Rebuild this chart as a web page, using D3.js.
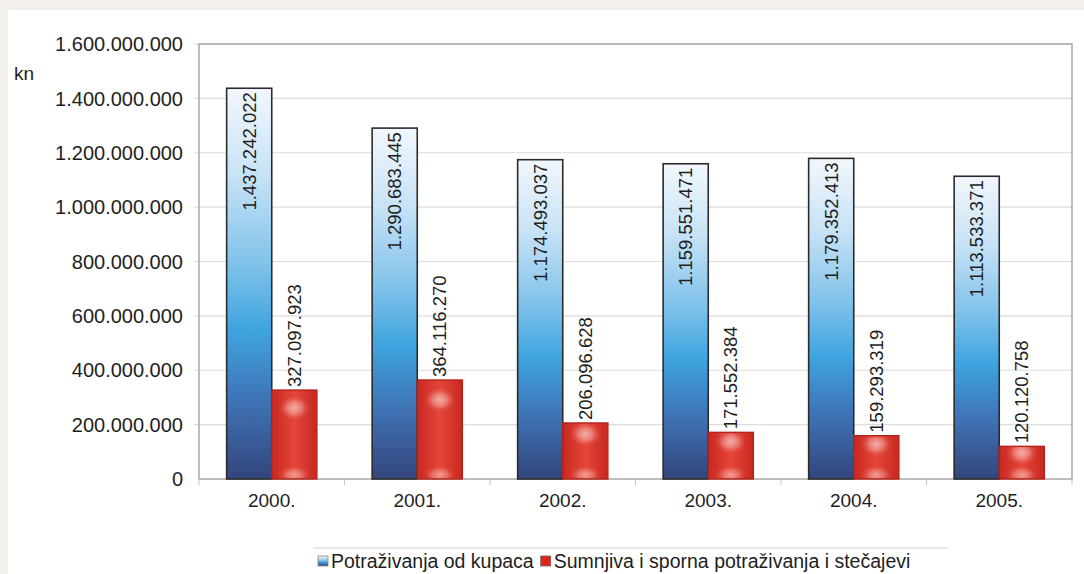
<!DOCTYPE html>
<html><head><meta charset="utf-8">
<script src="https://cdn.jsdelivr.net/npm/d3@7"></script>
<style>
html,body{margin:0;padding:0;background:#f3f0ec;}
svg{display:block;}
text{font-family:"Liberation Sans",Arial,sans-serif;fill:#1e1e1e;}
</style></head><body>
<svg id="c" width="1084" height="574"></svg>
<script>
const years = ["2000.","2001.","2002.","2003.","2004.","2005."];
const series = ["Potraživanja od kupaca","Sumnjiva i sporna potraživanja i stečajevi"];
const potrazivanja = [1437242022,1290683445,1174493037,1159551471,1179352413,1113533371];
const sumnjiva = [327097923,364116270,206096628,171552384,159293319,120120758];
const yTicks = [0,200000000,400000000,600000000,800000000,1000000000,1200000000,1400000000,1600000000];
const unitLabel = "kn";

const loc = d3.formatLocale({decimal:",",thousands:".",grouping:[3],currency:["","kn"]});
const fmt = loc.format(",d");

const svg = d3.select("#c");
svg.append("rect").attr("x",8).attr("y",10).attr("width",1076).attr("height",564).attr("fill","#fff");

const L=199,R=1072,T=44,B=479;
const y = d3.scaleLinear().domain([0,1600000000]).range([B,T]);
const x0 = d3.scaleBand().domain(years).range([L,R]).paddingInner(0.38).paddingOuter(0.19);
const x1 = d3.scaleBand().domain(series).range([0,x0.bandwidth()]).padding(0);

const defs = svg.append("defs");
const bg = defs.append("linearGradient").attr("id","gBlue").attr("x1",0).attr("y1",0).attr("x2",0).attr("y2",1);
[[0,"#f2f7fd"],[0.22,"#c8e3f6"],[0.45,"#80c2ea"],[0.62,"#3ea4df"],[0.8,"#3f73b6"],[1,"#33457c"]].forEach(s=>bg.append("stop").attr("offset",s[0]).attr("stop-color",s[1]));
const rg = defs.append("radialGradient").attr("id","gHi").attr("cx",0.5).attr("cy",0.5).attr("r",0.5);
[[0,"#ffffff",0.95],[0.45,"#fbd3cb",0.7],[1,"#e04a3c",0]].forEach(s=>rg.append("stop").attr("offset",s[0]).attr("stop-color",s[1]).attr("stop-opacity",s[2]));
const rs = defs.append("linearGradient").attr("id","gRed").attr("x1",0).attr("y1",0).attr("x2",1).attr("y2",0);
[[0,"#c8281f"],[0.5,"#e5443a"],[1,"#c8281f"]].forEach(s=>rs.append("stop").attr("offset",s[0]).attr("stop-color",s[1]));

// gridlines
svg.append("g").selectAll("line").data(yTicks.slice(1)).join("line")
  .attr("x1",L-5).attr("x2",R).attr("y1",d=>y(d)).attr("y2",d=>y(d))
  .attr("stroke","#dcdcdc").attr("stroke-width",1.2);
// plot frame
svg.append("rect").attr("x",L).attr("y",T).attr("width",R-L).attr("height",B-T)
  .attr("fill","none").attr("stroke","#a8a8a8").attr("stroke-width",1.5);

// y labels
svg.append("g").selectAll("text").data(yTicks).join("text")
  .attr("x",183).attr("y",d=>y(d)).attr("dy","0.36em").attr("text-anchor","end")
  .attr("font-size",20).text(d=>d===0?"0":fmt(d));
svg.append("text").attr("x",14).attr("y",80).attr("font-size",19).text(unitLabel);

// x axis ticks
svg.append("g").selectAll("line").data(d3.range(years.length+1)).join("line")
  .attr("x1",i=>L+i*x0.step()).attr("x2",i=>L+i*x0.step()).attr("y1",B).attr("y2",B+6)
  .attr("stroke","#c8c8c8");
svg.append("g").selectAll("text").data(years).join("text")
  .attr("x",d=>x0(d)+x0.bandwidth()/2).attr("y",507).attr("text-anchor","middle")
  .attr("font-size",19).text(d=>d);

const groups = svg.append("g").selectAll("g").data(years).join("g")
  .attr("transform",d=>`translate(${x0(d)},0)`);

// blue bars
groups.append("rect")
  .attr("x",x1(series[0])).attr("width",x1.bandwidth())
  .attr("y",(d,i)=>y(potrazivanja[i])).attr("height",(d,i)=>B-y(potrazivanja[i]))
  .attr("fill","url(#gBlue)").attr("stroke","#2b2b2b").attr("stroke-width",1.6);
groups.append("text")
  .attr("transform",(d,i)=>`translate(${x1(series[0])+x1.bandwidth()/2},${y(potrazivanja[i])+4}) rotate(-90)`)
  .attr("text-anchor","end").attr("dy","0.36em").attr("font-size",18.5)
  .text((d,i)=>fmt(potrazivanja[i]));

// red bars
const rx = x1(series[1]), rw = x1.bandwidth();
groups.each(function(d,i){
  const g = d3.select(this);
  const top = y(sumnjiva[i]), h = B-top;
  const cp = defs.append("clipPath").attr("id","cp"+i);
  cp.append("rect").attr("x",rx).attr("y",top).attr("width",rw).attr("height",h);
  g.append("rect").attr("x",rx).attr("y",top).attr("width",rw).attr("height",h).attr("fill","url(#gRed)");
  const hg = g.append("g").attr("clip-path",`url(#cp${i})`);
  const big = h>120;
  const sz = big?26:22;
  hg.append("ellipse").attr("cx",rx+rw/2).attr("cy",top+Math.min(h*0.2,24)).attr("rx",sz*0.75).attr("ry",big?sz*0.85:sz*0.6)
    .attr("fill","url(#gHi)").attr("opacity",big?1:0.6);
  hg.append("ellipse").attr("cx",rx+rw/2).attr("cy",B-(big?14:4)).attr("rx",sz*0.75).attr("ry",big?sz*0.7:sz*0.45)
    .attr("fill","url(#gHi)").attr("opacity",big?1:0.5);
  g.append("rect").attr("x",rx).attr("y",top).attr("width",rw).attr("height",h)
    .attr("fill","none").attr("stroke","#b3241c").attr("stroke-width",1.4);
  g.append("text")
    .attr("transform",`translate(${rx+rw/2},${top-3}) rotate(-90)`)
    .attr("text-anchor","start").attr("dy","0.36em").attr("font-size",18.5)
    .text(fmt(sumnjiva[i]));
});

// legend
svg.append("line").attr("x1",313).attr("x2",948).attr("y1",548).attr("y2",548).attr("stroke","#d0d0d0").attr("stroke-width",1.2);
const lg = svg.append("g").attr("transform","translate(318,561)");
lg.append("rect").attr("x",0).attr("y",-5).attr("width",10).attr("height",10).attr("fill","url(#gBlue)").attr("stroke","#888").attr("stroke-width",0.8);
lg.append("text").attr("x",13).attr("y",0).attr("dy","0.36em").attr("font-size",19.5).text(series[0]);
const w0 = lg.select("text").node().getComputedTextLength();
const lx2 = 13+w0+7;
lg.append("rect").attr("x",lx2).attr("y",-5).attr("width",10).attr("height",10).attr("fill","#e0231b").attr("stroke","#666").attr("stroke-width",0.8);
lg.append("text").attr("x",lx2+13).attr("y",0).attr("dy","0.36em").attr("font-size",19.5).text(series[1]);
</script></body></html>
